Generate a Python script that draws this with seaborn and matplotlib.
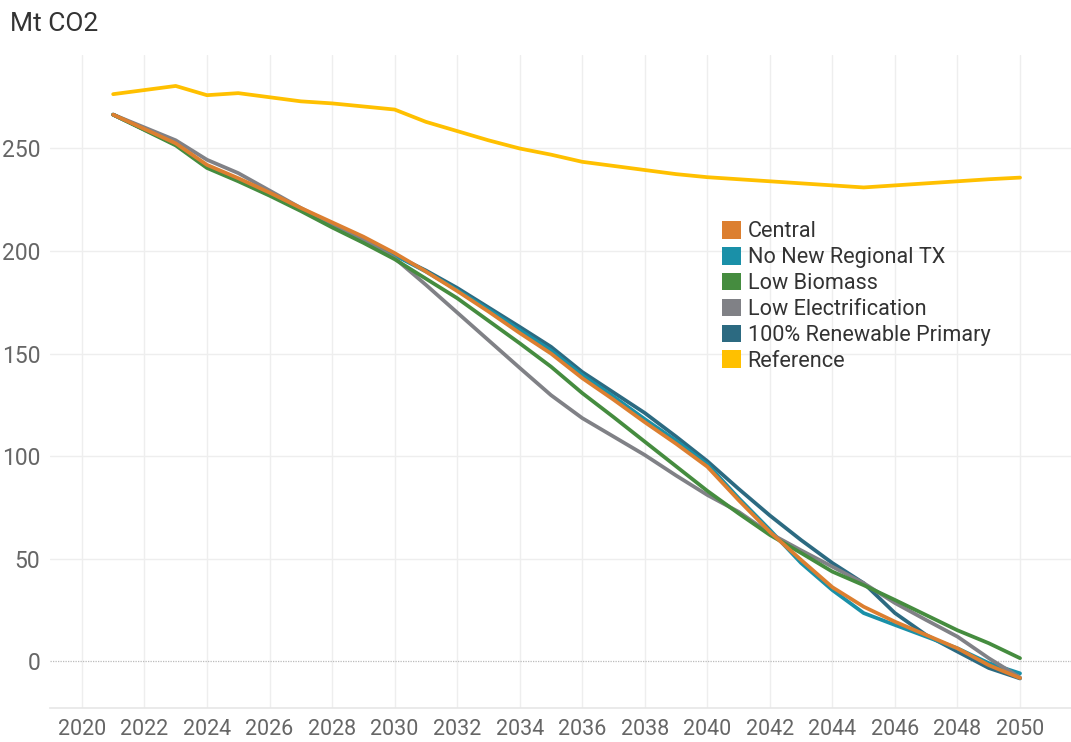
import seaborn as sns
import matplotlib.pyplot as plt
import pandas as pd
from matplotlib.patches import Patch

years = [2021, 2023, 2024, 2025, 2026, 2027, 2028, 2029, 2030, 2031, 2032, 2033, 2034, 2035,
         2036, 2037, 2038, 2039, 2040, 2041, 2042, 2043, 2044, 2045, 2046, 2047, 2048, 2049, 2050]

central = [266.5, 252.5, 242, 235.5, 228.5, 221, 214, 207, 199, 190, 180.5, 170.5, 160, 150,
           138, 127.5, 116.5, 106, 94.8, 78.5, 63, 49.3, 36, 26.5, 19.2, 12.7, 6.2, -2, -8.3]
no_new_tx = [266.5, 252, 241, 234.5, 227.5, 220.5, 212.5, 205.5, 198, 190, 181, 171.5, 161.5, 151.5,
             139.5, 129, 118, 107.5, 96, 79.5, 64, 47.8, 34.6, 23.4, 17.6, 11.9, 6.2, -1, -6]
low_biomass = [266.5, 251.5, 240.5, 234, 227, 219.5, 211.5, 204, 196, 186.5, 177, 166, 155, 143.6,
               130.7, 119, 107, 95, 83, 72, 61.5, 52.7, 43.6, 37, 29.8, 22.4, 15, 8.7, 1.4]
low_electrification = [266.5, 254, 244.5, 238, 229.5, 221, 213, 205.5, 196.5, 183.5, 170, 156.5, 143, 129.7,
                       118.5, 109.5, 100.5, 90.5, 81, 72.8, 62.3, 54, 46, 38, 28.3, 20, 11.9, 1.4, -8]
renewable_100 = [266.5, 252, 241, 234.5, 227.5, 220.5, 212.5, 205.5, 198, 190.5, 182, 172.5, 163, 153.3,
                 141, 131, 121, 109.5, 97.5, 84, 71, 59, 47.8, 38, 23.4, 12.7, 4.6, -3.4, -8.5]
reference = [276.5, 280.5, 276, 277, 275, 273, 272, 270.5, 269, 263, 258.5, 254, 250, 247,
             243.5, 241.5, 239.5, 237.5, 236, 235, 234, 233, 232, 231, 232, 233, 234, 235, 235.8]

scenarios = ["Central", "No New Regional TX", "Low Biomass", "Low Electrification",
             "100% Renewable Primary", "Reference"]
colors = ["#DC7F30", "#1A90A8", "#458C3F", "#808186", "#2C6A81", "#FFC000"]
# drawing order (last on top)
draw_order = ["100% Renewable Primary", "No New Regional TX", "Low Electrification",
              "Low Biomass", "Central", "Reference"]

series = dict(zip(scenarios, [central, no_new_tx, low_biomass, low_electrification,
                              renewable_100, reference]))
df = pd.concat([pd.DataFrame({"year": years, "value": v, "scenario": k}) for k, v in series.items()])
palette = dict(zip(scenarios, colors))

sns.set_style("white")
plt.rcParams["font.family"] = ["Roboto", "DejaVu Sans"]

fig = plt.figure(figsize=(10.71, 7.42), dpi=100)
ax = fig.add_axes([50 / 1071, 34 / 742, 1021 / 1071, 653 / 742])

sns.lineplot(data=df, x="year", y="value", hue="scenario", hue_order=draw_order,
             palette=palette, linewidth=2.7, ax=ax, legend=False, estimator=None, sort=False)

ax.set_xlim(2018.98, 2051.63)
ax.set_ylim(-22.9, 295.6)
ax.set_xticks(range(2020, 2051, 2))
ax.set_yticks([0, 50, 100, 150, 200, 250])
ax.set_xlabel("")
ax.set_ylabel("")

grid_c = "#EEEEEE"
for y in [50, 100, 150, 200, 250]:
    ax.axhline(y, color=grid_c, lw=1, zorder=0)
for x in range(2020, 2051, 2):
    ax.axvline(x, color=grid_c, lw=1, zorder=0)
ax.axhline(0, color="#BBBBBB", lw=0.9, ls=(0, (1, 1)), zorder=0.5)

for s in ["top", "right", "left"]:
    ax.spines[s].set_visible(False)
ax.spines["bottom"].set_color("#E6E6E6")
ax.spines["bottom"].set_linewidth(1.2)
ax.tick_params(axis="both", length=5, color=grid_c, labelcolor="#666666", pad=3)
ax.tick_params(axis="y", labelsize=16.5, pad=2)
ax.tick_params(axis="x", labelsize=15.5, pad=3)

fig.text(10 / 1071, 1 - 24 / 742, "Mt CO2", fontsize=19, color="#333333", va="center", ha="left")

handles = [Patch(facecolor=palette[s], edgecolor="none") for s in scenarios]
fig.legend(handles, scenarios, loc="upper left", bbox_to_anchor=(722 / 1071, 1 - 221 / 742),
           frameon=False, fontsize=15.6, labelcolor="#333333", handlelength=0.88, handleheight=0.88,
           handletextpad=0.3, labelspacing=0.21, borderaxespad=0, borderpad=0)

fig.savefig("out.png", dpi=100)
